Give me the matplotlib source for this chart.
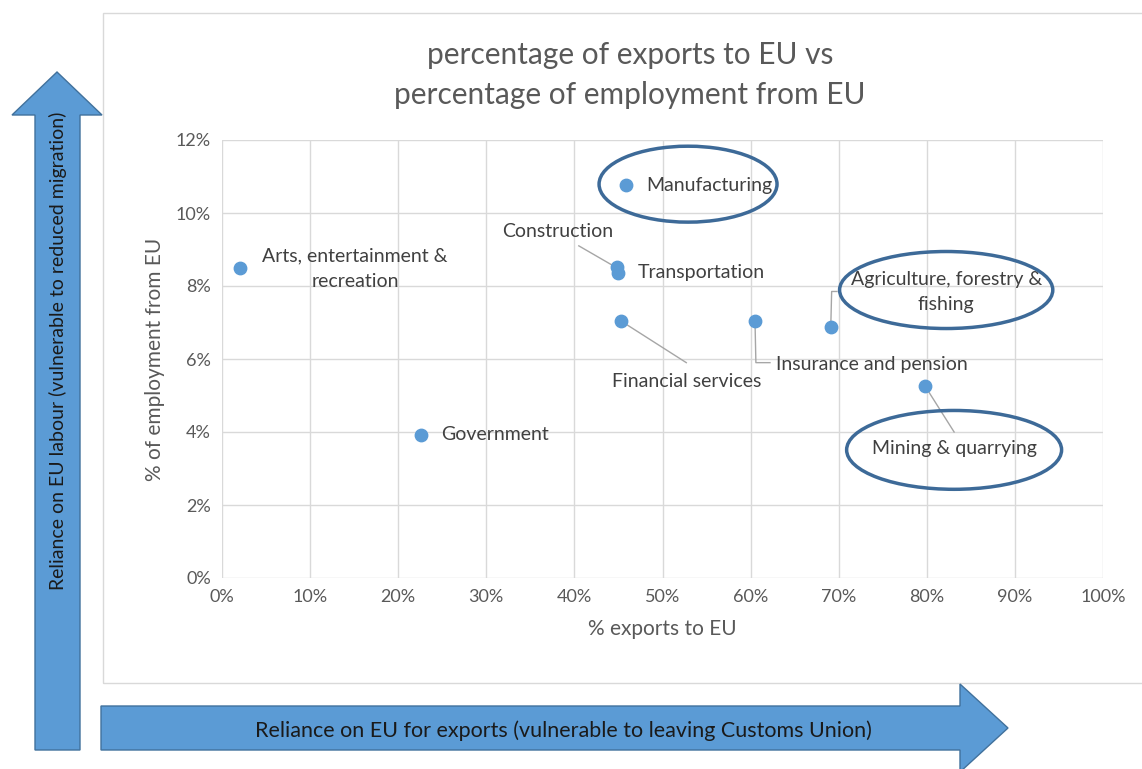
import matplotlib
matplotlib.use("Agg")
import matplotlib.pyplot as plt
from matplotlib.patches import Ellipse, Polygon, Rectangle
from matplotlib.ticker import PercentFormatter

plt.rcParams['font.family'] = ['Lato', 'DejaVu Sans']

# data (percent)
sectors = ["Arts, entertainment &\nrecreation", "Government", "Manufacturing",
           "Construction", "Transportation", "Financial services",
           "Insurance and pension", "Agriculture, forestry &\nfishing",
           "Mining & quarrying"]
exports_eu = [2.0, 22.6, 45.9, 44.8, 44.95, 45.3, 60.5, 69.1, 79.8]
employment_eu = [8.49, 3.92, 10.77, 8.52, 8.36, 7.04, 7.04, 6.88, 5.26]

# label positions (data coords) and alignment
label_x = [15.1, 24.9, 48.2, 38.1, 47.2, 52.8, 62.9, 82.2, 83.1]
label_y = [8.47, 3.92, 10.74, 9.48, 8.36, 5.37, 5.86, 7.84, 3.56]
label_ha = ["center", "left", "left", "center", "left", "center", "left", "center", "center"]
circled = ["Manufacturing", "Agriculture, forestry &\nfishing", "Mining & quarrying"]
ellipse_w = [20.2, 24.2, 24.4]
ellipse_h = [2.08, 2.11, 2.16]

W, H = 1142, 769
fig = plt.figure(figsize=(W / 100, H / 100), dpi=100)


def fp(x, y):
    return (x / W, 1 - y / H)


# chart frame
fig.add_artist(Rectangle(fp(103, 683), (1150 - 103) / W, (683 - 13) / H,
                         transform=fig.transFigure, fill=False,
                         edgecolor="#D9D9D9", lw=1))

ax = fig.add_axes([222 / W, 1 - 578 / H, (1103 - 222) / W, (578 - 140) / H])
ax.set_xlim(0, 100)
ax.set_ylim(0, 12)
ax.set_xticks(range(0, 101, 10))
ax.set_yticks(range(0, 13, 2))
ax.xaxis.set_major_formatter(PercentFormatter(decimals=0))
ax.yaxis.set_major_formatter(PercentFormatter(decimals=0))
ax.grid(True, color="#D9D9D9", lw=1)
ax.set_axisbelow(True)
for s in ax.spines.values():
    s.set_visible(False)
ax.tick_params(length=0, labelsize=13, colors="#595959", pad=8)
ax.set_xlabel("% exports to EU", fontsize=15, color="#595959", labelpad=10)
ax.set_ylabel("% of employment from EU", fontsize=15, color="#595959", labelpad=8)

ax.scatter(exports_eu, employment_eu, s=80, color="#5B9BD5", zorder=3)

# leader lines
leaders = {
    "Construction": [(40.5, 9.1), (44.8, 8.5)],
    "Financial services": [(52.7, 5.9), (45.3, 7.04)],
    "Insurance and pension": [(60.5, 7.04), (60.6, 5.9), (62.2, 5.9)],
    "Agriculture, forestry &\nfishing": [(69.1, 6.88), (69.2, 7.85), (69.8, 7.85)],
    "Mining & quarrying": [(79.8, 5.26), (83.1, 4.0)],
}
for name, pts in leaders.items():
    xs, ys = zip(*pts)
    ax.plot(xs, ys, color="#A6A6A6", lw=1, zorder=2)

for name, lx, ly, ha in zip(sectors, label_x, label_y, label_ha):
    ax.text(lx, ly, name, ha=ha, va="center", fontsize=14, color="#404040",
            linespacing=1.6)

for name, w, h in zip(circled, ellipse_w, ellipse_h):
    i = sectors.index(name)
    cx = label_x[i] + (4.7 if name == "Manufacturing" else 0)
    cy = label_y[i] + (0.05 if name != "Mining & quarrying" else -0.05)
    ax.add_patch(Ellipse((cx, cy), w, h, fill=False, edgecolor="#3D6A98",
                         lw=2.5, clip_on=False, zorder=4))

fig.text(630 / W, 1 - 55 / H, "percentage of exports to EU vs", ha="center",
         va="center", fontsize=21.5, color="#595959")
fig.text(630 / W, 1 - 95 / H, "percentage of employment from EU", ha="center",
         va="center", fontsize=21.5, color="#595959")

# big arrows
arrow_kw = dict(transform=fig.transFigure, facecolor="#5B9BD5",
                edgecolor="#41719C", lw=1, closed=True)
v_pts = [(35, 750), (35, 115), (12, 115), (57, 72), (102, 115), (80, 115), (80, 750)]
fig.add_artist(Polygon([fp(*p) for p in v_pts], **arrow_kw))
h_pts = [(101, 706), (960, 706), (960, 684), (1008, 728), (960, 772), (960, 750), (101, 750)]
fig.add_artist(Polygon([fp(*p) for p in h_pts], **arrow_kw))

fig.text(58 / W, 1 - 351 / H, "Reliance on EU labour (vulnerable to reduced migration)",
         rotation=90, ha="center", va="center", fontsize=14, color="#1A1A1A")
fig.text(563 / W, 1 - 731 / H, "Reliance on EU for exports (vulnerable to leaving Customs Union)",
         ha="center", va="center", fontsize=15.5, color="#1A1A1A")

fig.savefig("out.png", dpi=100)
